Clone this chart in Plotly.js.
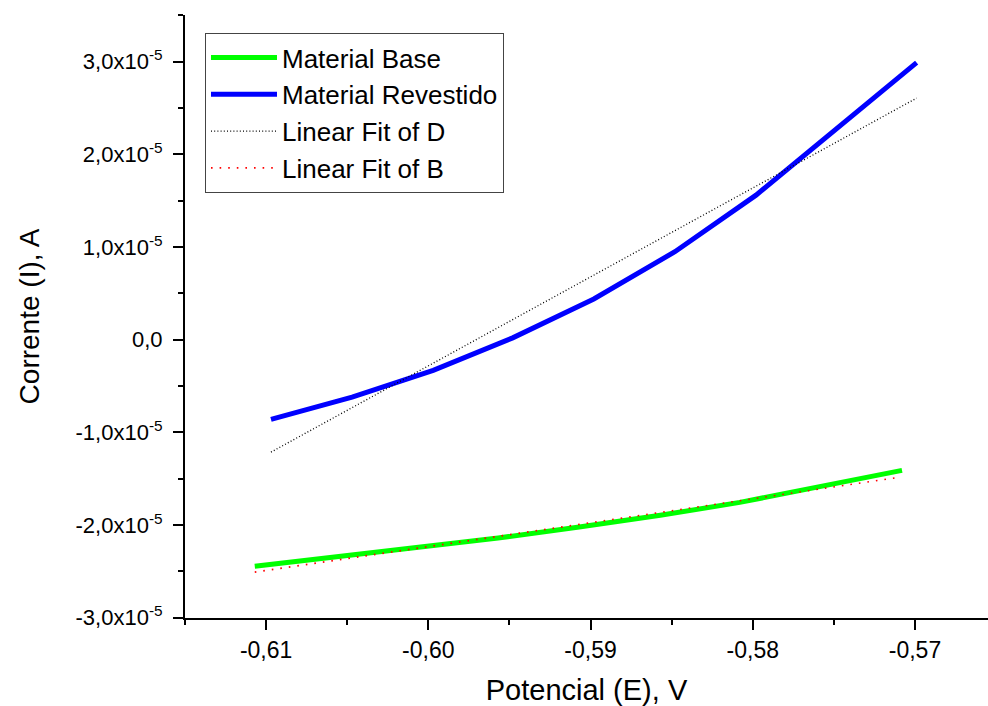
<!DOCTYPE html>
<html>
<head>
<meta charset="utf-8">
<script src="https://cdn.plot.ly/plotly-3.0.1.min.js"></script>
<style>
html,body{margin:0;padding:0;background:#fff;}
#chart{width:988px;height:706px;}
</style>
</head>
<body>
<div id="chart"></div>
<script>
// Data
const potBase = [-0.6107, -0.6057, -0.6007, -0.5957, -0.5907, -0.5857, -0.5808, -0.5758, -0.5708];
const curBase = [-2.445e-5, -2.345e-5, -2.25e-5, -2.14e-5, -2.02e-5, -1.895e-5, -1.755e-5, -1.58e-5, -1.41e-5];
const potRev = [-0.6097, -0.6047, -0.5997, -0.5948, -0.5898, -0.5848, -0.5798, -0.5749, -0.5699];
const curRev = [-0.86e-5, -0.62e-5, -0.33e-5, 0.02e-5, 0.44e-5, 0.95e-5, 1.56e-5, 2.26e-5, 2.99e-5];
const potFitD = [-0.6097, -0.5699];
const curFitD = [-1.213e-5, 2.607e-5];
const potFitB = [-0.6107, -0.5710];
const curFitB = [-2.508e-5, -1.486e-5];

const xTickVals = [-0.61, -0.60, -0.59, -0.58, -0.57];
const xTickText = ["-0,61", "-0,60", "-0,59", "-0,58", "-0,57"];
const yTickVals = [-3e-5, -2e-5, -1e-5, 0, 1e-5, 2e-5, 3e-5];
const yTickText = ["-3,0x10<sup>-5</sup>", "-2,0x10<sup>-5</sup>", "-1,0x10<sup>-5</sup>", "0,0",
                   "1,0x10<sup>-5</sup>", "2,0x10<sup>-5</sup>", "3,0x10<sup>-5</sup>"];

const names = ["Material Base", "Material Revestido", "Linear Fit of D", "Linear Fit of B"];

const FONT = "Liberation Sans";

const traces = [
  {x: potBase, y: curBase, name: names[0], mode: "lines", legendgroup: "a",
   line: {color: "#00ff00", width: 5}},
  {x: potRev, y: curRev, name: names[1], mode: "lines", legendgroup: "b",
   line: {color: "#0000ff", width: 5}},
  {x: potFitD, y: curFitD, name: names[2], mode: "lines", legendgroup: "c",
   line: {color: "#000000", width: 1.3, dash: "1px,2.2px"}},
  {x: potFitB, y: curFitB, name: names[3], mode: "lines", legendgroup: "d",
   line: {color: "#ff0000", width: 1.6, dash: "1.6px,7px"}}
];

const layout = {
  width: 988, height: 706,
  margin: {l: 185, r: 0, t: 15, b: 88, pad: 0},
  paper_bgcolor: "#ffffff", plot_bgcolor: "#ffffff",
  font: {family: FONT, color: "#000000", size: 22},
  showlegend: true,
  legend: {
    x: 0.0249, y: 0.970, xanchor: "left", yanchor: "top",
    bgcolor: "#ffffff", bordercolor: "#444444", borderwidth: 1,
    font: {family: FONT, size: 26, color: "#000000"},
    traceorder: "grouped", tracegroupgap: 0, itemwidth: 66
  },
  xaxis: {
    range: [-0.615, -0.5655],
    showgrid: false, zeroline: false,
    showline: true, linecolor: "#000000", linewidth: 2,
    ticks: "outside", ticklen: 10, tickwidth: 2, tickcolor: "#000000",
    tickmode: "array", tickvals: xTickVals, ticktext: xTickText,
    tickfont: {family: FONT, size: 23, color: "#000000"},
    ticklabelstandoff: 0,
    minor: {tickmode: "linear", tick0: -0.615, dtick: 0.005, ticks: "outside", ticklen: 5, tickwidth: 2, tickcolor: "#000000", showgrid: false},
    title: {text: "Potencial (E), V", font: {family: FONT, size: 29, color: "#000000"}, standoff: 18},
    automargin: false
  },
  yaxis: {
    range: [-3.003e-5, 3.504e-5],
    showgrid: false, zeroline: false,
    showline: true, linecolor: "#000000", linewidth: 2,
    ticks: "outside", ticklen: 10, tickwidth: 2, tickcolor: "#000000",
    tickmode: "array", tickvals: yTickVals, ticktext: yTickText,
    tickfont: {family: FONT, size: 22, color: "#000000"},
    ticklabelstandoff: 6,
    minor: {tickmode: "linear", tick0: 0, dtick: 0.5e-5, ticks: "outside", ticklen: 5, tickwidth: 2, tickcolor: "#000000", showgrid: false},
    title: {text: "Corrente (I), A", font: {family: FONT, size: 28, color: "#000000"}, standoff: 28},
    automargin: false
  }
};

Plotly.newPlot("chart", traces, layout, {displayModeBar: false, staticPlot: true});
</script>
</body>
</html>
